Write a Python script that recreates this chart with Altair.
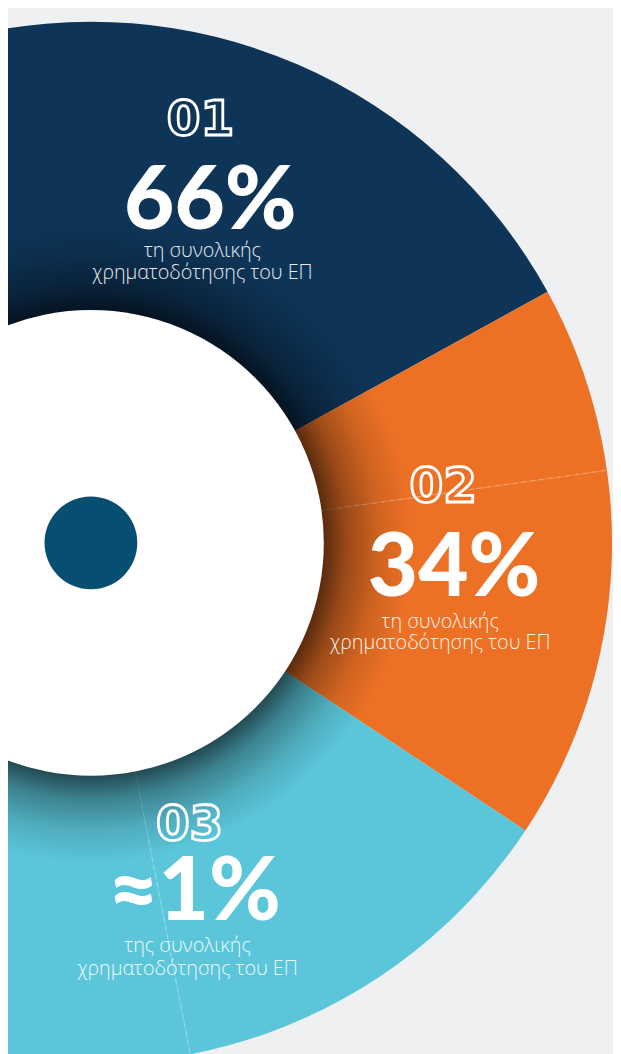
import math
import altair as alt
import pandas as pd

# ---- data ----
codes = ["01", "02", "03"]
shares_label = ["66%", "34%", "≈1%"]
line1 = ["τη συνολικής", "τη συνολικής", "της συνολικής"]
line2 = ["χρηματοδότησης του ΕΠ", "χρηματοδότησης του ΕΠ", "χρηματοδότησης του ΕΠ"]
arc_deg = [151.2, 62.3, 146.5]   # visible angular span of each slice (degrees)
seam_deg = [82.0, 169.0]         # faint dashed seams inside slices (clockwise from 12 o'clock)
colors = ["#0e3457", "#ec7125", "#5bc6da"]

W, H = 613, 1046
CX, CY = 84, 535
R_OUT, R_IN, R_DOT = 528, 236, 47

df = pd.DataFrame({"code": codes, "deg": arc_deg, "order": [0, 1, 2]})
one = pd.DataFrame({"k": [0]})

slices = alt.Chart(df).mark_arc(radius=R_OUT, radius2=0).encode(
    x=alt.value(CX), y=alt.value(CY),
    theta=alt.Theta("deg:Q", stack=True,
                    scale=alt.Scale(range=[-math.pi / 2, 3 * math.pi / 2])),
    color=alt.Color("code:N", scale=alt.Scale(domain=codes, range=colors), legend=None),
    order=alt.Order("order:Q"),
)

seams = []
for a in seam_deg:
    t = math.radians(a)
    seams.append(alt.Chart(one).mark_arc(
        radius=R_OUT, radius2=R_IN, theta=t, theta2=t, fillOpacity=0,
        stroke="white", strokeOpacity=0.35, strokeWidth=0.8, strokeDash=[5, 4],
    ).encode(x=alt.value(CX), y=alt.value(CY)))

shadow_r = 325
shadow = alt.Chart(one).mark_arc(
    radius=shadow_r, radius2=R_IN - 2, theta=0, theta2=2 * math.pi,
    color={"gradient": "radial", "x1": 0.5, "y1": 0.5, "r1": 0,
           "x2": 0.5, "y2": 0.5, "r2": 0.5,
           "stops": [
               {"offset": 0, "color": "rgba(0,0,0,0.62)"},
               {"offset": R_IN / shadow_r, "color": "rgba(0,0,0,0.62)"},
               {"offset": 0.80, "color": "rgba(0,0,0,0.34)"},
               {"offset": 0.90, "color": "rgba(0,0,0,0.12)"},
               {"offset": 1.0, "color": "rgba(0,0,0,0)"},
           ]},
).encode(x=alt.value(CX), y=alt.value(CY))

hole = alt.Chart(one).mark_arc(radius=R_IN, theta=0, theta2=2 * math.pi, color="white").encode(
    x=alt.value(CX), y=alt.value(CY))
dot = alt.Chart(one).mark_arc(radius=R_DOT, theta=0, theta2=2 * math.pi, color="#074f70").encode(
    x=alt.value(CX), y=alt.value(CY))

# label placement (layout, not data)
layout = [
    {"cx": 195, "code_y": 107, "big_x": 205, "big_y": 217, "t_x": 197, "t1_y": 245, "t2_y": 268},
    {"cx": 441, "code_y": 479, "big_x": 452, "big_y": 589, "t_x": 438, "t1_y": 621, "t2_y": 643},
    {"cx": 184, "code_y": 821, "big_x": 189, "big_y": 917, "t_x": 182, "t1_y": 950, "t2_y": 973},
]

texts = []
for i in range(3):
    L = layout[i]
    row = pd.DataFrame({"code": [codes[i]], "big": [shares_label[i]],
                        "l1": [line1[i]], "l2": [line2[i]]})
    base = alt.Chart(row)
    texts.append(base.mark_text(font="DejaVu Sans", fontWeight="bold", fontSize=49, fillOpacity=0,
                                stroke="white", strokeWidth=2.8, baseline="middle",
                                align="center").encode(
        text="code:N", x=alt.value(L["cx"]), y=alt.value(L["code_y"])))
    texts.append(base.mark_text(font="Lato", fontWeight=900, fontSize=88, color="white",
                                baseline="alphabetic", align="center").encode(
        text="big:N", x=alt.value(L["big_x"]), y=alt.value(L["big_y"])))
    texts.append(base.mark_text(font="Open Sans", fontWeight=300, fontSize=20, color="white",
                                opacity=0.9, baseline="alphabetic", align="center").encode(
        text="l1:N", x=alt.value(L["t_x"]), y=alt.value(L["t1_y"])))
    texts.append(base.mark_text(font="Open Sans", fontWeight=300, fontSize=20, color="white",
                                opacity=0.9, baseline="alphabetic", align="center").encode(
        text="l2:N", x=alt.value(L["t_x"]), y=alt.value(L["t2_y"])))

chart = alt.layer(slices, *seams, shadow, hole, dot, *texts).properties(
    width=W, height=H,
    autosize=alt.AutoSizeParams(type="none"),
    padding=0,
    background="#eef0f2",
).configure_view(stroke=None)

chart.save("out.html", embed_options={"renderer": "svg", "actions": False})
